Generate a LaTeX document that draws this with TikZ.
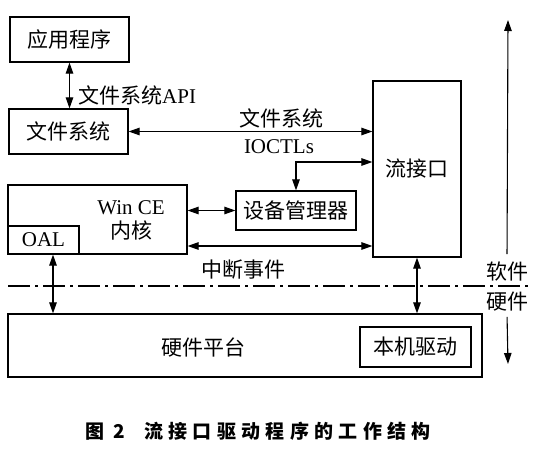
\documentclass[tikz,border=0pt]{standalone}
\usepackage{fontspec}
\setmainfont{Liberation Serif}
\newfontfamily\zh{Noto Sans CJK SC}
\newfontfamily\zhcap{Noto Sans CJK SC}[LetterSpace=28]
\usetikzlibrary{arrows.meta,positioning}

\begin{document}
\begin{tikzpicture}[x=1pt,y=-1pt,align=center,
    font=\fontsize{21}{24}\selectfont,
    >={Triangle[length=11pt,width=7.5pt]},
    box/.style={draw,line width=1.2pt,inner sep=0pt},
    link/.style={<->,line width=1.1pt},
    txt/.style={inner sep=2pt}]
    \useasboundingbox[fill=white] (0,0) rectangle (536,450);
    \node[box,minimum width=119,minimum height=45] at (69.5,39.5) (app) {\zh 应用程序};
    \node[box,minimum width=119,minimum height=45] at (68.5,131.5) (fs) {\zh 文件系统};
    \node[box,minimum width=88,minimum height=176] at (417,169) (stream) {\zh 流接口};
    \node[box,minimum width=120,minimum height=39] at (296,210.5) (mgr) {\zh 设备管理器};
    \node[box,minimum width=179,minimum height=69] at (97.5,219.5) (wince) {};
    \node[txt] at (131,220) (kernel) {Win CE\\{\zh 内核}};
    \node[box,minimum width=71,minimum height=28] at (43.5,240) (oal) {OAL};
    \node[box,minimum width=474,minimum height=63] at (245,345.5) (hw) {};
    \node[txt] at (203,347) (hwtext) {\zh 硬件平台};
    \node[box,minimum width=111,minimum height=40] at (415.5,347) (native) {\zh 本机驱动};
    \node[txt,anchor=west] at (76,95) (apilbl) {{\zh 文件系统}API};
    \node[txt] at (281,118) (fsctl) {\zh 文件系统};
    \node[txt] at (279,147) (ioctl) {IOCTLs};
    \node[txt] at (243,270) (irq) {\zh 中断事件};
    \node[txt] at (507,272) (soft) {\zh 软件};
    \node[txt] at (507,302) (hard) {\zh 硬件};
    \node[font=\zhcap\bfseries\fontsize{19}{22}\selectfont] at (258,431) (cap) {图 2\quad 流接口驱动程序的工作结构};
    \coordinate (up) at (508,20);
    \coordinate (down) at (508,364);
    \coordinate (mgrbus) at (297,162);
    \coordinate (irqbus) at (0,246);
    \coordinate (divl) at (8,286);
    \coordinate (divr) at (531,286);
    \draw[link] (app.south) -- (app.south |- fs.north);
    \draw[link] (fs.east) -- (fs.east -| stream.west);
    \draw[link] (mgrbus -| stream.west) -| (mgr.north);
    \draw[link] (mgr.west -| wince.east) -- (mgr.west);
    \draw[link] (irqbus -| stream.west) -- (irqbus -| wince.east);
    \draw[link] ([xshift=9.5]oal.south) -- ([xshift=9.5]oal.south |- hw.north);
    \draw[link] (stream.south) -- (stream.south |- hw.north);
    \draw[->,line width=1.1pt,shorten <=6pt] (soft.north) -- (up);
    \draw[->,line width=1.1pt,shorten <=3pt] (hard.south) -- (down);
    \draw[line width=1.1pt,dash pattern=on 22pt off 5pt on 3pt off 5pt] (divl) -- (divr);
\end{tikzpicture}
\end{document}
